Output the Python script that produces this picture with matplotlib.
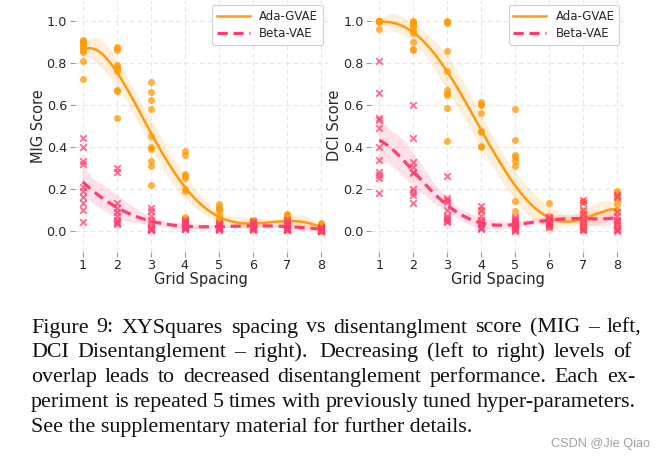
import numpy as np
import matplotlib
matplotlib.use("Agg")
import matplotlib.pyplot as plt
from matplotlib.lines import Line2D
import seaborn as sns

# ---------------- data ----------------
spacings = [1, 2, 3, 4, 5, 6, 7, 8]

mig_ada = {
    1: [0.91, 0.905, 0.90, 0.89, 0.88, 0.87, 0.86, 0.85, 0.81, 0.72],
    2: [0.875, 0.87, 0.86, 0.79, 0.78, 0.77, 0.76, 0.67, 0.665, 0.535],
    3: [0.71, 0.66, 0.62, 0.58, 0.45, 0.40, 0.39, 0.33, 0.31, 0.22],
    4: [0.38, 0.36, 0.27, 0.26, 0.25, 0.20, 0.19, 0.065, 0.055, 0.05],
    5: [0.125, 0.115, 0.105, 0.10, 0.075, 0.06, 0.05, 0.04, 0.03, 0.02],
    6: [0.05, 0.045, 0.04, 0.035, 0.03, 0.025, 0.02, 0.02, 0.015, 0.01],
    7: [0.08, 0.075, 0.07, 0.06, 0.05, 0.045, 0.04, 0.03, 0.02, 0.01],
    8: [0.035, 0.03, 0.025, 0.02, 0.015, 0.01, 0.008, 0.005, 0.003, 0.0],
}
mig_beta = {
    1: [0.44, 0.40, 0.33, 0.32, 0.21, 0.19, 0.16, 0.13, 0.10, 0.04],
    2: [0.30, 0.28, 0.13, 0.11, 0.09, 0.07, 0.05, 0.04, 0.035, 0.03],
    3: [0.11, 0.095, 0.07, 0.05, 0.035, 0.02, 0.015, 0.01, 0.005, 0.005],
    4: [0.05, 0.04, 0.035, 0.03, 0.025, 0.02, 0.02, 0.015, 0.01, 0.01],
    5: [0.035, 0.03, 0.025, 0.02, 0.02, 0.015, 0.015, 0.01, 0.01, 0.005],
    6: [0.045, 0.035, 0.03, 0.025, 0.02, 0.02, 0.015, 0.01, 0.01, 0.005],
    7: [0.05, 0.04, 0.03, 0.025, 0.02, 0.015, 0.01, 0.01, 0.005, 0.005],
    8: [0.02, 0.015, 0.01, 0.01, 0.008, 0.005, 0.003, 0.0, 0.0, 0.0],
}
dci_ada = {
    1: [1.0, 1.0, 1.0, 1.0, 1.0, 1.0, 1.0, 1.0, 0.995, 0.96],
    2: [1.0, 0.995, 0.99, 0.98, 0.97, 0.95, 0.94, 0.90, 0.865, 0.86],
    3: [1.0, 0.995, 0.99, 0.855, 0.76, 0.67, 0.655, 0.645, 0.585, 0.427],
    4: [0.615, 0.605, 0.60, 0.56, 0.475, 0.47, 0.405, 0.40, 0.10],
    5: [0.578, 0.432, 0.36, 0.352, 0.33, 0.31, 0.14, 0.094, 0.05, 0.03, 0.02, 0.01],
    6: [0.13, 0.07, 0.06, 0.05, 0.045, 0.04, 0.035, 0.03, 0.025, 0.02],
    7: [0.14, 0.135, 0.10, 0.08, 0.06, 0.04, 0.03, 0.02, 0.01, 0.005],
    8: [0.19, 0.18, 0.17, 0.15, 0.125, 0.10, 0.05, 0.03, 0.02, 0.01],
}
dci_beta = {
    1: [0.81, 0.655, 0.535, 0.525, 0.49, 0.40, 0.335, 0.28, 0.265, 0.25, 0.178],
    2: [0.60, 0.44, 0.325, 0.305, 0.28, 0.275, 0.20, 0.185, 0.17, 0.133],
    3: [0.26, 0.155, 0.145, 0.135, 0.10, 0.07, 0.06, 0.055, 0.045, 0.04],
    4: [0.12, 0.10, 0.07, 0.05, 0.04, 0.035, 0.03, 0.02, 0.015, 0.01],
    5: [0.065, 0.055, 0.05, 0.04, 0.03, 0.025, 0.02, 0.01, 0.005, 0.0],
    6: [0.065, 0.06, 0.055, 0.05, 0.045, 0.04, 0.035, 0.03, 0.025, 0.02],
    7: [0.145, 0.13, 0.10, 0.08, 0.06, 0.045, 0.03, 0.02, 0.01, 0.005],
    8: [0.17, 0.16, 0.09, 0.07, 0.05, 0.04, 0.03, 0.01, 0.005, 0.0],
}

series_names = ["Ada-GVAE", "Beta-VAE"]
y_labels = ["MIG Score", "DCI Score"]
x_label = "Grid Spacing"
x_ticks = spacings
y_ticks = [0.0, 0.2, 0.4, 0.6, 0.8, 1.0]
fit_orders = [5, 5]

caption_lines = [
    "Figure 9: XYSquares spacing vs disentanglment score (MIG \u2013 left,",
    "DCI Disentanglement \u2013 right).  Decreasing (left to right) levels of",
    "overlap leads to decreased disentanglement performance. Each ex-",
    "periment is repeated 5 times with previously tuned hyper-parameters.",
    "See the supplementary material for further details.",
]
watermark = "CSDN @Jie Qiao"

# ---------------- style ----------------
ORANGE = "#FF9A0A"
PINK = "#FF3D6E"
W, H = 665, 458
fig = plt.figure(figsize=(W / 100, H / 100), dpi=100)
fig.patch.set_facecolor("white")


def flatten(d):
    xs, ys = [], []
    for k in spacings:
        for v in d[k]:
            xs.append(k)
            ys.append(v)
    return np.array(xs, float), np.array(ys, float)


def px_axes(left_px, top_px, w_px, h_px):
    return fig.add_axes([left_px / W, 1 - (top_px + h_px) / H, w_px / W, h_px / H])


XL = (0.76, 8.22)
YL = (-0.1, 1.1)
PPU_X = 34.0
PPU_Y = 210.0
x1_px = [82.7, 379.3]
y1_px = 20.7

axes = []
panels = [(mig_ada, mig_beta), (dci_ada, dci_beta)]
for i, (ada, beta) in enumerate(panels):
    left = x1_px[i] - (1 - XL[0]) * PPU_X
    top = y1_px - (YL[1] - 1.0) * PPU_Y
    width = (XL[1] - XL[0]) * PPU_X
    height = (YL[1] - YL[0]) * PPU_Y
    ax = px_axes(left, top, width, height)
    axes.append((ax, left, width))
    ax.set_facecolor("white")
    ax.set_axisbelow(True)
    ax.grid(True, ls=(0, (4, 3)), color="#e6e6e6", lw=0.8)

    xa, ya = flatten(ada)
    xb, yb = flatten(beta)
    sns.regplot(x=xa, y=ya, ax=ax, order=fit_orders[i], ci=95, seed=0, truncate=True,
                marker="o", color=ORANGE,
                scatter_kws=dict(s=26, alpha=0.75, linewidths=0, zorder=3),
                line_kws=dict(lw=1.8, zorder=4))
    sns.regplot(x=xb, y=yb, ax=ax, order=fit_orders[i], ci=95, seed=0, truncate=True,
                marker="x", color=PINK,
                scatter_kws=dict(s=22, alpha=0.75, linewidths=1.4, zorder=5),
                line_kws=dict(lw=2.3, ls=(0, (3.2, 1.8)), zorder=6))

    ax.set_xlim(*XL)
    ax.set_ylim(*YL)
    ax.set_xticks(x_ticks)
    ax.set_yticks(y_ticks)
    ax.set_yticklabels([f"{t:.1f}" for t in y_ticks])
    for s in ax.spines.values():
        s.set_visible(False)
    ax.tick_params(axis="both", which="both", length=3.5, width=0.8,
                   color="#9a9a9a", labelsize=9.2, labelcolor="#262626", pad=2)
    ax.set_xlabel(x_label, fontsize=10.5, color="#262626", labelpad=0)
    ax.set_ylabel(y_labels[i], fontsize=10.5, color="#262626")

    handles = [Line2D([], [], color=ORANGE, lw=1.8),
               Line2D([], [], color=PINK, lw=2.3, ls=(0, (3.2, 1.8)))]
    leg = ax.legend(handles, series_names, loc="upper right", fontsize=8.5,
                    frameon=True, fancybox=True, framealpha=1,
                    edgecolor="#d0d0d0", handlelength=2.8, borderaxespad=0.45,
                    labelspacing=0.35)
    leg.get_frame().set_linewidth(0.8)
    for t in leg.get_texts():
        t.set_color("#262626")

# place y labels just left of the tick labels
fig.canvas.draw()
renderer = fig.canvas.get_renderer()
for ax, left, width in axes:
    tl_left = min(t.get_window_extent(renderer=renderer).x0
                  for t in ax.get_yticklabels() if t.get_text())
    ax.yaxis.set_label_coords((tl_left - 1.0 - left) / width, 0.5)

# ---------------- caption (justified) ----------------
CAP_FS = 15.8
CAP_FAMILY = "Liberation Serif"
cap_left = 31.0
cap_rights = [641.7, 631.7, 635.0, 636.0]
base0 = 332.5
lead = 24.8
EXTRA_SPACE = 4.0  # extra space for a double space after a sentence

for li, line in enumerate(caption_lines):
    ybase = 1 - (base0 + li * lead) / H
    if li == len(caption_lines) - 1:
        fig.text(cap_left / W, ybase, line, fontsize=CAP_FS, family=CAP_FAMILY,
                 va="baseline", ha="left", color="#111111")
        continue
    tokens = line.split(" ")
    texts, widths, extras = [], [], []
    pending_extra = 0.0
    for w in tokens:
        if w == "":
            pending_extra += EXTRA_SPACE
            continue
        t = fig.text(0, ybase, w, fontsize=CAP_FS, family=CAP_FAMILY,
                     va="baseline", ha="left", color="#111111")
        bb = t.get_window_extent(renderer=renderer)
        texts.append(t)
        widths.append(bb.width)
        extras.append(pending_extra)
        pending_extra = 0.0
    total = sum(widths) + sum(extras)
    gap = (cap_rights[li] - cap_left - total) / (len(texts) - 1)
    x = cap_left
    for k, (t, wd) in enumerate(zip(texts, widths)):
        x += extras[k]
        t.set_x(x / W)
        x += wd + gap

fig.text(650 / W, 1 - 446.5 / H, watermark, fontsize=9.2,
         family="Liberation Sans", color="#a0a0a0", ha="right", va="baseline")

fig.savefig("out.png", dpi=100, facecolor="white")
